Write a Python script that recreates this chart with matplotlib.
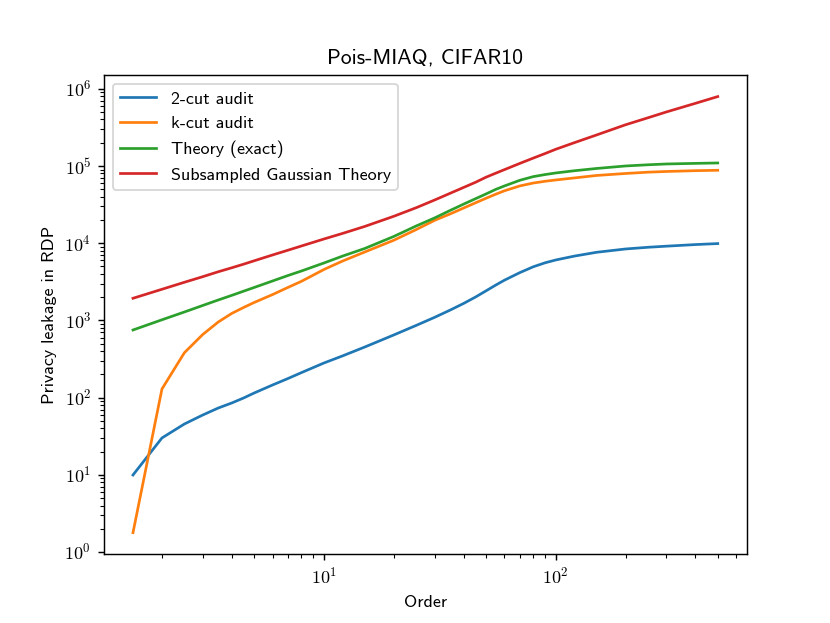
import matplotlib
matplotlib.use("Agg")
import matplotlib.pyplot as plt
from matplotlib.ticker import FuncFormatter
import numpy as np

plt.rcParams['font.family'] = ['cmss10', 'DejaVu Sans']
plt.rcParams['mathtext.fontset'] = 'cm'
plt.rcParams['axes.unicode_minus'] = False

# Renyi orders
orders = [1.5, 2, 2.5, 3, 3.5, 4, 4.5, 5, 6, 7, 8, 10, 12, 15, 20, 25, 30, 35,
          40, 45, 50, 55, 60, 70, 80, 90, 100, 120, 150, 200, 250, 300, 400, 500]

# privacy leakage
two_cut = [9.94, 30.0, 45.5, 59.5, 73.3, 85.1, 98.8, 114.7, 145.6, 176.8, 210.8,
           280.7, 345.8, 452, 647, 861, 1094, 1358, 1655, 2001, 2411, 2857, 3310,
           4157, 4947, 5574, 6059, 6792, 7621, 8412, 8850, 9143, 9592, 9881]
k_cut = [1.78, 129.2, 381.6, 656.9, 953.5, 1230, 1469, 1706, 2159, 2676, 3210,
         4563, 5850, 7691, 10904, 15005, 19740, 23890, 28490, 33270, 38150,
         42990, 47650, 55160, 60150, 63370, 65880, 69940, 75340, 79950, 83110,
         84860, 86920, 87960]
theory_exact = [750.8, 1018, 1285, 1560, 1838, 2108, 2389, 2669, 3239, 3816,
                4364, 5541, 6785, 8541, 12213, 16704, 21210, 26520, 32010, 37600,
                43380, 49620, 55050, 65270, 72800, 77450, 81170, 86670, 92820,
                100000, 103640, 106140, 108060, 109370]
subsampled_gauss = [1933, 2529, 3117, 3682, 4265, 4800, 5346, 5915, 7035, 8117,
                    9200, 11330, 13350, 16480, 22290, 28800, 36200, 44250, 52640,
                    61350, 71500, 80500, 89500, 108000, 126500, 145000, 164600,
                    199800, 252100, 341700, 421100, 500600, 647100, 792500]


def pow10(v, pos):
    return r'$10^{%d}$' % int(round(np.log10(v)))


fig, ax = plt.subplots(figsize=(830 / 130, 623 / 130), dpi=130)
ax.plot(orders, two_cut, label="2-cut audit")
ax.plot(orders, k_cut, label="k-cut audit")
ax.plot(orders, theory_exact, label="Theory (exact)")
ax.plot(orders, subsampled_gauss, label="Subsampled Gaussian Theory")
ax.set_xscale("log")
ax.set_yscale("log")
ax.xaxis.set_major_formatter(FuncFormatter(pow10))
ax.yaxis.set_major_formatter(FuncFormatter(pow10))
ax.set_xlabel("Order")
ax.set_ylabel("Privacy leakage in RDP")
ax.set_title("Pois-MIAQ, CIFAR10")
ax.legend(loc="upper left")

plt.savefig("out.png", dpi=130)
